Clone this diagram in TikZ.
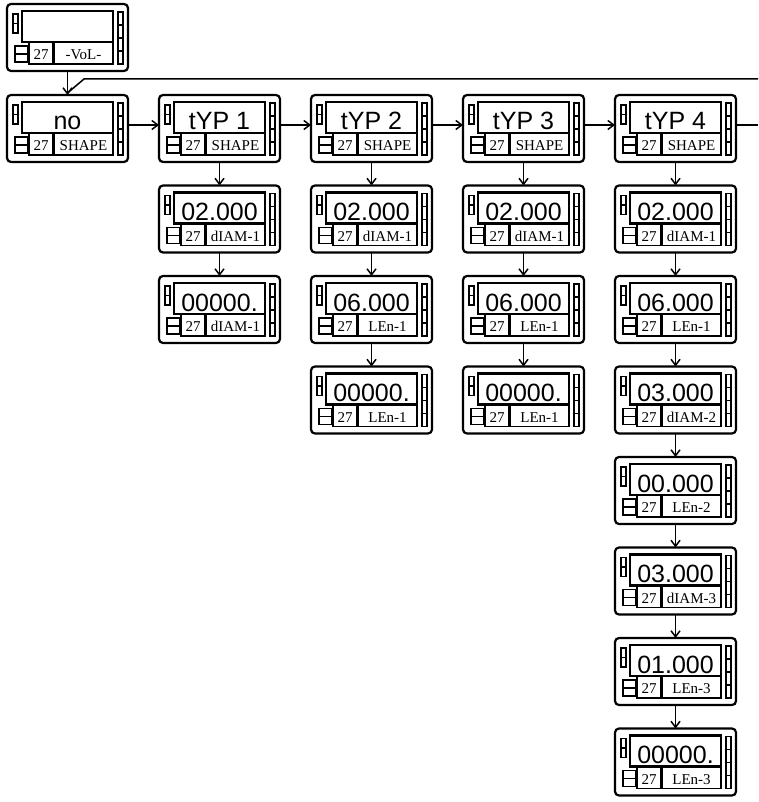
\documentclass[tikz,border=0pt]{standalone}
\usepackage{fontspec}
\usetikzlibrary{arrows.meta}
\newfontfamily\dispfont{Liberation Sans}
\newfontfamily\lblfont{Liberation Serif}

% one panel meter: name, left, top, display text, label
\newcommand\meter[5]{%
  \node[meterbox] (#1) at (#2+60.5,#3+33.5) {};
  \begin{scope}[shift={(#2,#3)}]
    \draw[line width=2.2pt] (15,7) rectangle (106,38);
    \draw[seg] (22,38) rectangle (46,60) (47,38) rectangle (106,60);
    \draw[seg] (6,10) rectangle (11,19.5) (6,19.5) rectangle (11,29);
    \draw[seg] (8,42) rectangle (21,50) (8,50) rectangle (21,58);
    \foreach \k in {0,...,3} \draw[seg] (111,8+13*\k) rectangle (116,21+13*\k);
    \node[disp] (#1-d) at (60.5,35) {#4};
    \node[lbl] (#1-n) at (34,55.5) {27};
    \node[lbl] (#1-l) at (76.5,55.5) {#5};
  \end{scope}}

\begin{document}
\begin{tikzpicture}[x=1pt, y=-1pt,
  meterbox/.style={draw, line width=2.2pt, rounded corners=4pt, minimum width=121pt, minimum height=67pt, inner sep=0pt, outer sep=0pt},
  seg/.style={line width=1.8pt},
  disp/.style={anchor=base, inner sep=0pt, font=\dispfont\fontsize{25}{25}\selectfont},
  lbl/.style={anchor=base, inner sep=0pt, font=\lblfont\fontsize{15}{15}\selectfont},
  wire/.style={line width=1.5pt},
  conn/.style={wire, -{Straight Barb[length=6pt,width=9pt]}}]
\useasboundingbox (0,0) rectangle (758,802);

\meter{vol}{7}{4}{}{-VoL-}
\meter{no}{7}{95}{no}{SHAPE}
\meter{typ1}{159}{95}{tYP 1}{SHAPE}
\meter{typ2}{311}{95}{tYP 2}{SHAPE}
\meter{typ3}{463}{95}{tYP 3}{SHAPE}
\meter{typ4}{615}{95}{tYP 4}{SHAPE}

\meter{a1}{159}{185.5}{02.000}{dIAM-1}
\meter{a2}{159}{276}{00000.}{dIAM-1}

\meter{b1}{311}{185.5}{02.000}{dIAM-1}
\meter{b2}{311}{276}{06.000}{LEn-1}
\meter{b3}{311}{366.5}{00000.}{LEn-1}

\meter{c1}{463}{185.5}{02.000}{dIAM-1}
\meter{c2}{463}{276}{06.000}{LEn-1}
\meter{c3}{463}{366.5}{00000.}{LEn-1}

\meter{d1}{615}{185.5}{02.000}{dIAM-1}
\meter{d2}{615}{276}{06.000}{LEn-1}
\meter{d3}{615}{366.5}{03.000}{dIAM-2}
\meter{d4}{615}{457}{00.000}{LEn-2}
\meter{d5}{615}{547.5}{03.000}{dIAM-3}
\meter{d6}{615}{638}{01.000}{LEn-3}
\meter{d7}{615}{728.5}{00000.}{LEn-3}

% return line and entry
\coordinate (feed) at (758,79);
\coordinate (bend) at (84,79);
\coordinate (out) at (758,125);
\draw[conn] (vol.south) -- (no.north);
\draw[wire] (feed) -- (bend) -- ([yshift=2pt]no.north);

% along the first row
\foreach \a/\b in {no/typ1, typ1/typ2, typ2/typ3, typ3/typ4}
  \draw[conn] ([yshift=3.5pt]\a.east) -- ([yshift=3.5pt]\b.west);
\draw[wire] ([yshift=3.5pt]typ4.east) -- (out);

% down the columns
\foreach \a/\b in {typ1/a1, a1/a2, typ2/b1, b1/b2, b2/b3, typ3/c1, c1/c2, c2/c3,
  typ4/d1, d1/d2, d2/d3, d3/d4, d4/d5, d5/d6, d6/d7}
  \draw[conn] (\a.south) -- (\b.north);
\end{tikzpicture}
\end{document}
